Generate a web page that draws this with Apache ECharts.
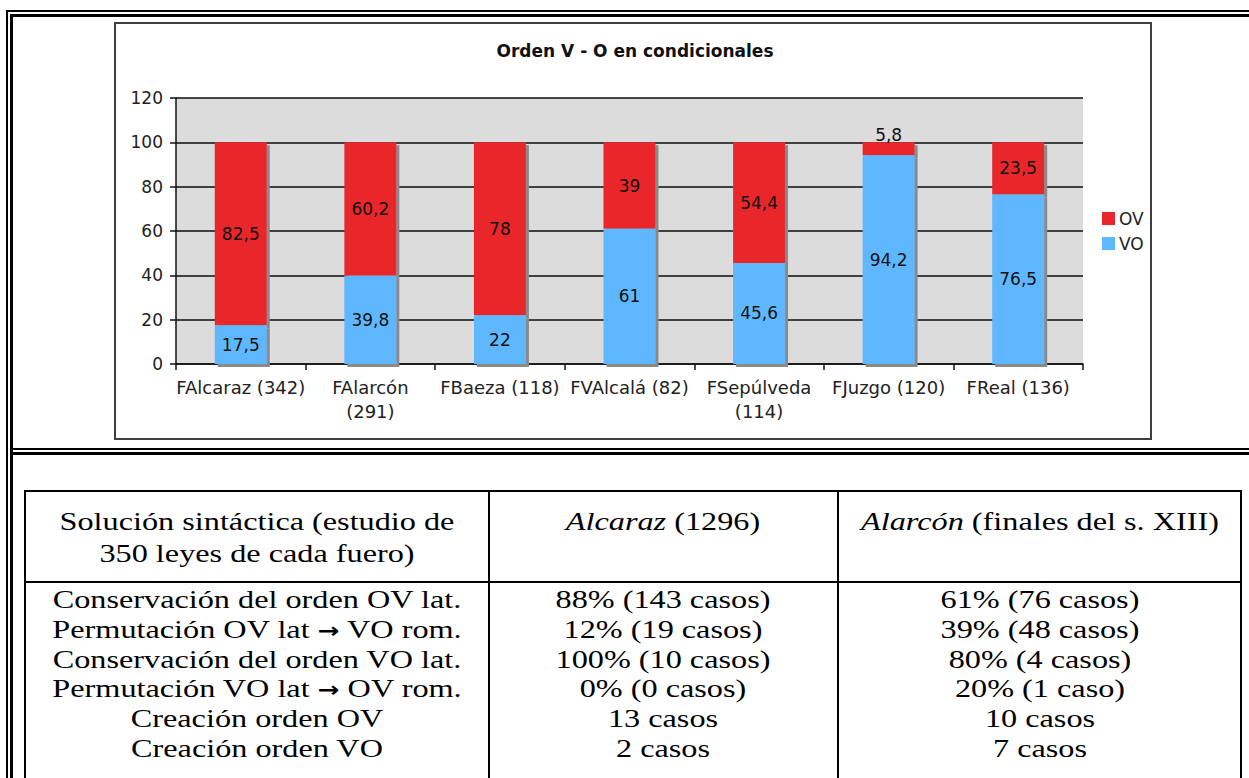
<!DOCTYPE html>
<html>
<head>
<meta charset="utf-8">
<script src="https://cdn.jsdelivr.net/npm/echarts@6/dist/echarts.min.js"></script>
<style>
html,body{margin:0;padding:0;background:#fff;width:1249px;height:778px;overflow:hidden;}
.ln{position:absolute;background:#000;}
#box{position:absolute;left:114px;top:22px;width:1038px;height:418px;border:2px solid #3f3f3f;box-sizing:border-box;background:#fff;}
#chart{position:absolute;left:0;top:0;width:1249px;height:778px;z-index:2;}
.t{position:absolute;display:block;font-family:'Liberation Serif','Times New Roman',serif;font-size:26px;line-height:29px;height:29px;white-space:nowrap;color:#000;transform-origin:0 0;transform:scaleX(1.24) translateX(-50%);z-index:1;}
.t i{font-style:italic;}
.ar{font-family:'DejaVu Sans',sans-serif;font-weight:bold;font-size:21px;}
</style>
</head>
<body>
<!-- outer double frame -->
<div class="ln" style="left:6px;top:10px;width:1243px;height:2px;"></div>
<div class="ln" style="left:10px;top:14px;width:1239px;height:3px;"></div>
<div class="ln" style="left:6px;top:10px;width:2px;height:768px;"></div>
<div class="ln" style="left:10px;top:14px;width:3px;height:764px;"></div>
<!-- section divider -->
<div class="ln" style="left:13px;top:448px;width:1236px;height:2px;"></div>
<div class="ln" style="left:13px;top:452px;width:1236px;height:3px;"></div>
<!-- chart box -->
<div id="box"></div>
<!-- table lines -->
<div class="ln" style="left:24px;top:490px;width:1218px;height:2px;"></div>
<div class="ln" style="left:24px;top:581px;width:1218px;height:2px;"></div>
<div class="ln" style="left:24px;top:490px;width:2px;height:300px;"></div>
<div class="ln" style="left:488px;top:490px;width:2px;height:300px;"></div>
<div class="ln" style="left:837px;top:490px;width:2px;height:300px;"></div>
<div class="ln" style="left:1240px;top:490px;width:2px;height:300px;"></div>
<div id="tbl"></div>
<div id="chart"></div>
<script>
// ---- chart data ----
var categories = ['FAlcaraz (342)', 'FAlarcón\n(291)', 'FBaeza (118)', 'FVAlcalá (82)', 'FSepúlveda\n(114)', 'FJuzgo (120)', 'FReal (136)'];
var seriesOV = [82.5, 60.2, 78, 39, 54.4, 5.8, 23.5];
var seriesVO = [17.5, 39.8, 22, 61, 45.6, 94.2, 76.5];
var yTicks = [0, 20, 40, 60, 80, 100, 120];
var chartTitle = 'Orden V - O en condicionales';

// ---- table data ----
var headerCol1 = ['Solución sintáctica (estudio de', '350 leyes de cada fuero)'];
var headerCol2 = ['Alcaraz', ' (1296)'];
var headerCol3 = ['Alarcón', ' (finales del s. XIII)'];
var rowLabels = ['Conservación del orden OV lat.', 'Permutación OV lat → VO rom.', 'Conservación del orden VO lat.', 'Permutación VO lat → OV rom.', 'Creación orden OV', 'Creación orden VO'];
var colAlcaraz = ['88% (143 casos)', '12% (19 casos)', '100% (10 casos)', '0% (0 casos)', '13 casos', '2 casos'];
var colAlarcon = ['61% (76 casos)', '39% (48 casos)', '80% (4 casos)', '20% (1 caso)', '10 casos', '7 casos'];

// build table text
(function(){
  var tbl = document.getElementById('tbl');
  var colX = [257, 663, 1040];
  function add(x, cy, html){
    var s = document.createElement('span');
    s.className = 't';
    s.style.left = x + 'px';
    s.style.top = (cy - 14.7) + 'px';
    s.innerHTML = html;
    tbl.appendChild(s);
  }
  function esc(t){
    return t.replace(/&/g,'&amp;').replace(/</g,'&lt;').replace(/→/g, '<span class="ar">→</span>');
  }
  add(colX[0], 522, esc(headerCol1[0]));
  add(colX[0], 554, esc(headerCol1[1]));
  add(colX[1], 522, '<i>' + esc(headerCol2[0]) + '</i>' + esc(headerCol2[1]));
  add(colX[2], 522, '<i>' + esc(headerCol3[0]) + '</i>' + esc(headerCol3[1]));
  for (var i = 0; i < rowLabels.length; i++) {
    var cy = 600 + i * 29.7;
    add(colX[0], cy, esc(rowLabels[i]));
    add(colX[1], cy, esc(colAlcaraz[i]));
    add(colX[2], cy, esc(colAlarcon[i]));
  }
})();

var chart = echarts.init(document.getElementById('chart'), null, {renderer: 'svg', width: 1249, height: 778});
var fmt = function (p) { return String(p.value).replace('.', ','); };
var font = 'DejaVu Sans, Verdana, sans-serif';
var barShadow = {shadowColor: '#8a8a8a', shadowBlur: 0, shadowOffsetX: 3, shadowOffsetY: 3};

chart.setOption({
  backgroundColor: 'transparent',
  animation: false,
  title: {
    text: chartTitle,
    left: 630,
    textAlign: 'center',
    top: 37,
    textStyle: {fontFamily: font, fontSize: 17, fontWeight: 'bold', color: '#111'}
  },
  legend: {
    data: ['OV', 'VO'],
    orient: 'vertical',
    left: 1097,
    top: 205,
    itemWidth: 13,
    itemHeight: 13,
    itemGap: 8,
    icon: 'rect',
    itemStyle: {shadowColor: 'transparent', shadowOffsetX: 0, shadowOffsetY: 0, borderWidth: 0},
    textStyle: {fontFamily: font, fontSize: 17, color: '#222', padding: [0, 0, 0, -1]}
  },
  grid: {
    left: 176, right: 166, top: 98, bottom: 414,
    show: true, backgroundColor: '#DCDCDC', borderWidth: 0
  },
  xAxis: {
    type: 'category',
    data: categories,
    axisLine: {lineStyle: {color: '#111', width: 1.5}},
    axisTick: {show: true, length: 6, lineStyle: {color: '#111', width: 1.5}},
    axisLabel: {interval: 0, fontFamily: font, fontSize: 18, lineHeight: 24, margin: 11, color: '#222'},
    splitLine: {show: false}
  },
  yAxis: {
    type: 'value',
    min: yTicks[0],
    max: yTicks[yTicks.length - 1],
    interval: yTicks[1] - yTicks[0],
    axisLine: {show: true, lineStyle: {color: '#111', width: 1.5}},
    axisTick: {show: true, length: 6, lineStyle: {color: '#111', width: 1.5}},
    axisLabel: {fontFamily: font, fontSize: 17, margin: 13, color: '#222'},
    splitLine: {show: true, lineStyle: {color: '#0c0c0c', width: 1.6}}
  },
  series: [
    {
      name: 'VO', type: 'bar', stack: 'total', barWidth: 52, z: 3,
      data: seriesVO,
      itemStyle: Object.assign({color: '#5EB8FF'}, barShadow),
      label: {show: true, position: 'inside', formatter: fmt, fontFamily: font, fontSize: 17, color: '#111'}
    },
    {
      name: 'OV', type: 'bar', stack: 'total', barWidth: 52, z: 2,
      data: seriesOV.map(function (v) { return v < 10 ? {value: v, label: {position: 'top', distance: -1}} : v; }),
      itemStyle: Object.assign({color: '#E9262C'}, barShadow),
      label: {show: true, position: 'inside', formatter: fmt, fontFamily: font, fontSize: 17, color: '#111'}
    }
  ]
});
</script>
</body>
</html>
